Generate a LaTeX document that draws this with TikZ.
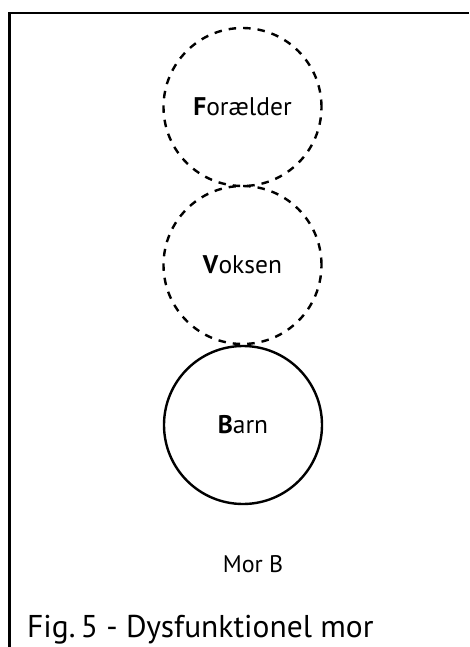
\documentclass[tikz,border=0pt]{standalone}
\usepackage{fontspec}
\setmainfont{PT Sans}
\begin{document}
\begin{tikzpicture}[x=1pt,y=-1pt,
  frame/.style={line width=2.4pt},
  ring/.style={circle, draw, line width=2.4pt, minimum size=158pt, inner sep=0pt, font=\fontsize{25.5}{30}\selectfont},
  dashring/.style={ring, dash pattern=on 7.5pt off 7pt},
  lbl/.style={inner sep=0pt, anchor=base}]
\useasboundingbox (0,0) rectangle (469,647);
\draw[frame] (9.5,647) -- (9.5,13) -- (469,13);
\node[dashring] (F) at (242.5,107) {\textbf{F}orælder};
\node[dashring] (V) at (242.5,265) {\textbf{V}oksen};
\node[ring] (B) at (243,425) {\textbf{B}arn};
\node[lbl, font=\fontsize{24}{28}\selectfont] (M) at (253,572) {Mor B};
\node[lbl, anchor=base west, font=\fontsize{31.5}{36}\selectfont] (C) at (27,637) {Fig.\,5 - Dysfunktionel mor};
\end{tikzpicture}
\end{document}
